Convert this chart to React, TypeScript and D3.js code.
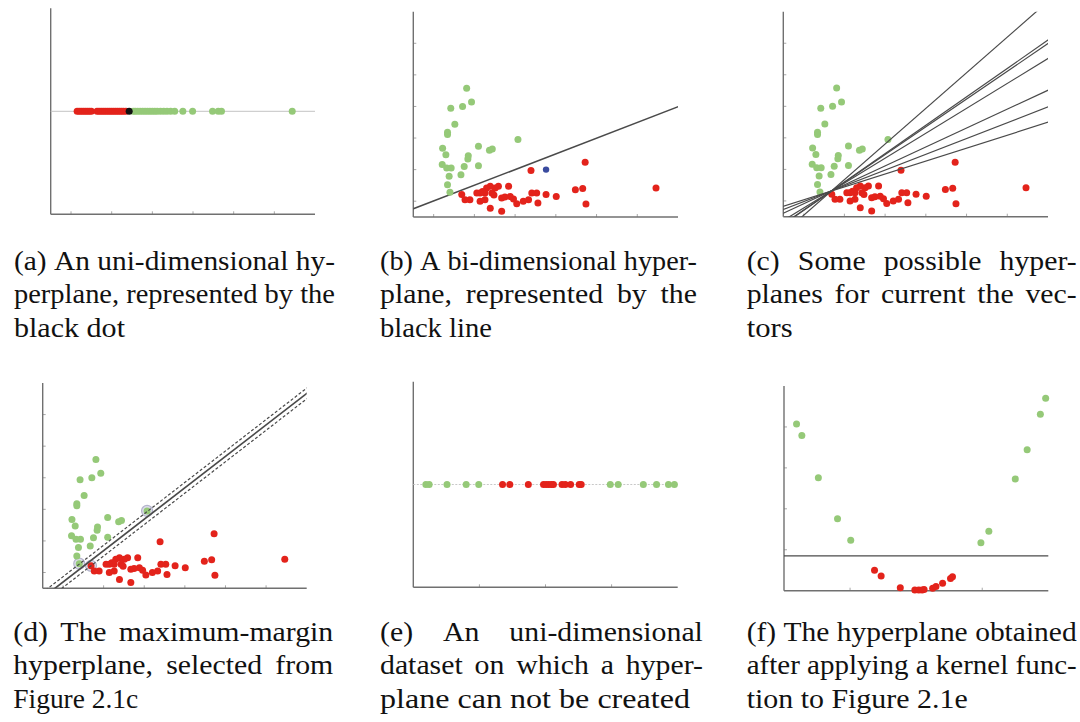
import React from "react";
import * as d3 from "d3";

const RED = "#e3231b";
const GREEN = "#95c978";
const BLUE = "#3a4b9f";
const AXIS = "#707070";
const TICK = "#a8a8a8";
const LINE = "#4a4a4a";

// (a) one-dimensional points along the axis
const oneDRed = [0.65, 0.70, 0.75, 0.80, 0.85, 0.90, 0.95, 1.00, 1.14, 1.19, 1.24, 1.29, 1.34, 1.39, 1.44, 1.49, 1.54, 1.59, 1.64, 1.69, 1.74, 1.79, 1.85];
const oneDGreen = [2.03, 2.08, 2.14, 2.20, 2.26, 2.32, 2.38, 2.44, 2.50, 2.56, 2.62, 2.70, 2.78, 2.86, 2.95, 3.05, 3.25, 3.49, 3.98, 4.12, 4.20, 5.94];
const oneDSplit = 1.93;

// (b)-(d) two-dimensional dataset
const greenPts: [number, number][] = [
  [1.31, 4.08], [1.43, 3.64], [1.21, 3.50], [0.92, 3.44], [1.02, 2.94], [0.84, 2.68],
  [0.84, 2.61], [0.72, 2.18], [0.80, 1.97], [0.71, 1.66], [0.82, 1.55], [0.93, 1.55],
  [0.88, 1.29], [0.84, 1.02], [0.90, 0.78], [1.17, 1.34], [1.25, 1.60], [1.34, 1.84],
  [1.35, 1.94], [1.60, 2.24], [1.60, 1.62], [1.87, 2.11], [1.94, 2.15], [2.57, 2.45],
];
const redPts: [number, number][] = [
  [2.89, 1.47], [4.22, 1.73], [5.96, 0.92], [4.24, 0.41], [3.98, 0.86], [4.16, 0.90],
  [3.26, 0.71], [3.51, 0.65], [3.03, 0.76], [2.91, 0.76], [3.06, 0.44], [2.83, 0.55],
  [2.70, 0.50], [2.54, 0.42], [2.46, 0.57], [2.38, 0.65], [2.34, 0.97], [2.17, 0.18],
  [2.17, 0.60], [2.09, 0.97], [2.01, 0.92], [1.93, 0.76], [1.89, 0.97], [1.80, 0.92],
  [1.76, 0.76], [1.70, 0.81], [1.64, 0.76], [1.56, 0.76], [1.64, 0.50], [1.76, 0.55],
  [1.89, 0.28], [1.39, 0.55], [1.27, 0.55], [1.19, 0.71], [2.25, 0.63], [1.98, 0.70],
];
const queryPt: [number, number] = [3.26, 1.5];
const lineB = { intercept: 0.26, slope: 0.497 };
const candidateLines = [
  { intercept: -0.52, slope: 1.13 },
  { intercept: -0.25, slope: 0.9 },
  { intercept: -0.23, slope: 0.88 },
  { intercept: -0.12, slope: 0.79 },
  { intercept: 0.11, slope: 0.6 },
  { intercept: 0.23, slope: 0.5 },
  { intercept: 0.33, slope: 0.41 },
];
const maxMargin = { intercept: -0.3, slope: 0.995, margin: 0.17 };
const supportVecs: [number, number][] = [[0.9, 0.78], [2.57, 2.45], [1.19, 0.71]];

// (e) one-dimensional non separable set
const eGreen = [0.19, 0.24, 0.51, 0.8, 0.99, 2.98, 3.1, 3.48, 3.68, 3.86, 3.95];
const eRed = [1.35, 1.46, 1.74, 1.97, 2.01, 2.05, 2.09, 2.12, 2.25, 2.3, 2.38, 2.51, 2.54];

// (f) after the kernel
const fGreen: [number, number][] = [
  [0.19, 4.07], [0.27, 3.79], [0.52, 2.76], [0.81, 1.76], [1.01, 1.23],
  [2.98, 1.17], [3.1, 1.45], [3.5, 2.73], [3.68, 3.44], [3.88, 4.31], [3.96, 4.7],
];
const fRed: [number, number][] = [
  [1.37, 0.5], [1.47, 0.36], [1.76, 0.07], [1.98, 0.02], [2.04, 0.02], [2.09, 0.02],
  [2.12, 0.03], [2.25, 0.06], [2.3, 0.1], [2.4, 0.18], [2.52, 0.3], [2.55, 0.34],
];
const fThreshold = 0.85;

const captions = [
  ["(a) An uni-dimensional hy-", "perplane, represented by the", "black dot"],
  ["(b) A bi-dimensional hyper-", "plane, represented by the", "black line"],
  ["(c) Some possible hyper-", "planes for current the vec-", "tors"],
  ["(d) The maximum-margin", "hyperplane, selected from", "Figure 2.1c"],
  ["(e) An uni-dimensional", "dataset on which a hyper-", "plane can not be created"],
  ["(f) The hyperplane obtained", "after applying a kernel func-", "tion to Figure 2.1e"],
];

const frames = [
  { left: 50.7, top: 8.3, right: 315, bottom: 214.3, xd: [0, 6.5], yd: [0, 1], xt: [0.5, 1.5, 2.5, 3.5, 4.5, 5.5], yt: [] as number[] },
  { left: 413.3, top: 11.7, right: 678, bottom: 217, xd: [0, 6.5], yd: [0, 6.5], xt: [0.5, 1.5, 2.5, 3.5, 4.5, 5.5], yt: [0.5, 1.5, 2.5, 3.5, 4.5, 5.5] },
  { left: 783.3, top: 11.7, right: 1048, bottom: 216.7, xd: [0, 6.5], yd: [0, 6.5], xt: [0.5, 1.5, 2.5, 3.5, 4.5, 5.5], yt: [0.5, 1.5, 2.5, 3.5, 4.5, 5.5] },
  { left: 42.7, top: 383, right: 306.7, bottom: 588.3, xd: [0, 6.5], yd: [0, 6.5], xt: [0.5, 1.5, 2.5, 3.5, 4.5, 5.5], yt: [0.5, 1.5, 2.5, 3.5, 4.5, 5.5] },
  { left: 413.3, top: 381.7, right: 677.7, bottom: 587.3, xd: [0, 4], yd: [0, 1], xt: [1, 2, 3], yt: [] as number[] },
  { left: 784, top: 386, right: 1048.3, bottom: 590.7, xd: [0, 4], yd: [0, 5], xt: [1, 2, 3], yt: [1, 2, 3, 4] },
];

// column box of each caption; lastW is how wide its short last line runs
const captionCols = [
  { left: 14, right: 335, base: 269.5, lastW: 111 },
  { left: 380, right: 697, base: 269.5, lastW: 112 },
  { left: 746.7, right: 1076.7, base: 269.5, lastW: 46 },
  { left: 13.3, right: 333.3, base: 640.7, lastW: 125 },
  { left: 380, right: 703, base: 640.7, lastW: 310 },
  { left: 746.7, right: 1076.7, base: 640.7, lastW: 221 },
];
const FONT = "Times New Roman, Liberation Serif, Tinos, Nimbus Roman, Times, serif";
const FS = 27.5;
const LEAD = 33.5;

// measure word widths with a hidden svg text so the numbers match what gets drawn
let probe: SVGTextElement | null = null;
function measure(s: string) {
  if (!probe) {
    const ns = "http://www.w3.org/2000/svg";
    const svg = document.createElementNS(ns, "svg");
    svg.setAttribute("width", "0");
    svg.setAttribute("height", "0");
    svg.setAttribute("style", "position:absolute;left:0;top:0;visibility:hidden");
    probe = document.createElementNS(ns, "text") as SVGTextElement;
    probe.setAttribute("font-family", FONT);
    probe.setAttribute("font-size", String(FS));
    svg.appendChild(probe);
    document.body.appendChild(svg);
  }
  probe.textContent = s;
  const w = probe.getComputedTextLength();
  probe.textContent = "";
  return w;
}

type Col = { left: number; right: number; base: number; lastW: number };

function Caption({ lines, col, sx }: { lines: string[]; col: Col; sx: number }) {
  const space = measure("a a") - measure("aa");
  return (
    <g fontFamily={FONT} fontSize={FS} fill="#111">
      {lines.map((line, li) => {
        const words = line.split(" ");
        const widths = words.map(measure);
        const total = d3.sum(widths);
        const natural = total + space * (words.length - 1);
        const last = li === lines.length - 1;
        let s = sx;
        let gap = space;
        if (last) {
          s = col.lastW / natural;
        } else {
          const colW = col.right - col.left;
          if (natural * sx > colW) s = colW / natural;
          else gap = (colW / sx - total) / (words.length - 1);
        }
        let cx = 0;
        return (
          <g key={li} transform={`translate(${col.left},${col.base + li * LEAD}) scale(${s},1)`}>
            {words.map((w, wi) => {
              const xPos = cx;
              cx += widths[wi] + gap;
              return <text key={wi} x={xPos} y={0}>{w}</text>;
            })}
          </g>
        );
      })}
    </g>
  );
}

function Dot({ cx, cy, fill, r = 3.5 }: { cx: number; cy: number; fill: string; r?: number }) {
  return <circle cx={cx} cy={cy} r={r} fill={fill} />;
}

export default function App() {
  const sc = frames.map((f) => ({
    x: d3.scaleLinear().domain(f.xd).range([f.left, f.right]),
    y: d3.scaleLinear().domain(f.yd).range([f.bottom, f.top]),
  }));

  // horizontal stretch taken from the short last lines, shared by all captions
  const space = measure("a a") - measure("aa");
  const sx = d3.mean(captions, (c, i) => {
    const words = c[c.length - 1].split(" ");
    return captionCols[i].lastW / (d3.sum(words, measure) + space * (words.length - 1));
  }) as number;

  const axes = frames.map((f, i) => {
    const { x, y } = sc[i];
    return (
      <g key={"ax" + i}>
        <clipPath id={`clip${i}`}>
          <rect x={f.left} y={f.top} width={f.right - f.left} height={f.bottom - f.top} />
        </clipPath>
        {f.xt.map((t) => (
          <line key={"xt" + t} x1={x(t)} x2={x(t)} y1={f.bottom} y2={f.bottom - 3} stroke={TICK} strokeWidth={1} />
        ))}
        {f.yt.map((t) => (
          <line key={"yt" + t} x1={f.left} x2={f.left + 3} y1={y(t)} y2={y(t)} stroke={TICK} strokeWidth={1} />
        ))}
        <line x1={f.left} x2={f.left} y1={f.top} y2={f.bottom} stroke={AXIS} strokeWidth={1.4} />
        <line x1={f.left} x2={f.right} y1={f.bottom} y2={f.bottom} stroke={AXIS} strokeWidth={1.4} />
      </g>
    );
  });

  const hyper = (i: number, l: { intercept: number; slope: number }, k: string, dash?: string, w = 1.4) => {
    const { x, y } = sc[i];
    return (
      <line
        key={k}
        x1={x(-1)}
        y1={y(l.intercept - l.slope)}
        x2={x(8)}
        y2={y(l.intercept + 8 * l.slope)}
        stroke={LINE}
        strokeWidth={w}
        strokeDasharray={dash}
        clipPath={`url(#clip${i})`}
      />
    );
  };

  const [A, B, C, D, E, F] = sc;

  return (
    <svg width={1080} height={722} style={{ position: "absolute", left: 0, top: 0, background: "#fff" }}>
      {axes}

      {/* (a) */}
      <line x1={A.x(0)} x2={A.x(6.5)} y1={A.y(0.5)} y2={A.y(0.5)} stroke="#c4c4c4" strokeWidth={1} />
      {oneDRed.map((v, i) => <Dot key={"ar" + i} cx={A.x(v)} cy={A.y(0.5)} fill={RED} />)}
      {oneDGreen.map((v, i) => <Dot key={"ag" + i} cx={A.x(v)} cy={A.y(0.5)} fill={GREEN} />)}
      <Dot cx={A.x(oneDSplit)} cy={A.y(0.5)} fill="#111" />

      {/* (b) */}
      {hyper(1, lineB, "lb", undefined, 1.6)}
      {greenPts.map((p, i) => <Dot key={"bg" + i} cx={B.x(p[0])} cy={B.y(p[1])} fill={GREEN} />)}
      {redPts.map((p, i) => <Dot key={"br" + i} cx={B.x(p[0])} cy={B.y(p[1])} fill={RED} />)}
      <Dot cx={B.x(queryPt[0])} cy={B.y(queryPt[1])} fill={BLUE} r={3.2} />

      {/* (c) */}
      {greenPts.map((p, i) => <Dot key={"cg" + i} cx={C.x(p[0])} cy={C.y(p[1])} fill={GREEN} />)}
      {redPts.map((p, i) => <Dot key={"cr" + i} cx={C.x(p[0])} cy={C.y(p[1])} fill={RED} />)}
      {candidateLines.map((l, i) => hyper(2, l, "cl" + i, undefined, 1.2))}

      {/* (d) */}
      {supportVecs.map((p, i) => (
        <circle key={"sv" + i} cx={D.x(p[0])} cy={D.y(p[1])} r={5.5} fill="#dcdcea" stroke="#b4b4cc" strokeWidth={1.2} />
      ))}
      {greenPts.map((p, i) => <Dot key={"dg" + i} cx={D.x(p[0])} cy={D.y(p[1])} fill={GREEN} />)}
      {redPts.map((p, i) => <Dot key={"dr" + i} cx={D.x(p[0])} cy={D.y(p[1])} fill={RED} />)}
      {hyper(3, maxMargin, "dm", undefined, 1.7)}
      {hyper(3, { intercept: maxMargin.intercept + maxMargin.margin, slope: maxMargin.slope }, "du", "3 2", 1.2)}
      {hyper(3, { intercept: maxMargin.intercept - maxMargin.margin, slope: maxMargin.slope }, "dd", "3 2", 1.2)}

      {/* (e) */}
      <line x1={E.x(0)} x2={E.x(4)} y1={E.y(0.5)} y2={E.y(0.5)} stroke="#c8c8c8" strokeWidth={1} strokeDasharray="2 1.5" />
      {eGreen.map((v, i) => <Dot key={"eg" + i} cx={E.x(v)} cy={E.y(0.5)} fill={GREEN} />)}
      {eRed.map((v, i) => <Dot key={"er" + i} cx={E.x(v)} cy={E.y(0.5)} fill={RED} />)}

      {/* (f) */}
      <line x1={F.x(0)} x2={F.x(4)} y1={F.y(fThreshold)} y2={F.y(fThreshold)} stroke={LINE} strokeWidth={1.4} />
      {fGreen.map((p, i) => <Dot key={"fg" + i} cx={F.x(p[0])} cy={F.y(p[1])} fill={GREEN} />)}
      {fRed.map((p, i) => <Dot key={"fr" + i} cx={F.x(p[0])} cy={F.y(p[1])} fill={RED} />)}

      {captions.map((c, i) => <Caption key={"cap" + i} lines={c} col={captionCols[i]} sx={sx} />)}
    </svg>
  );
}
